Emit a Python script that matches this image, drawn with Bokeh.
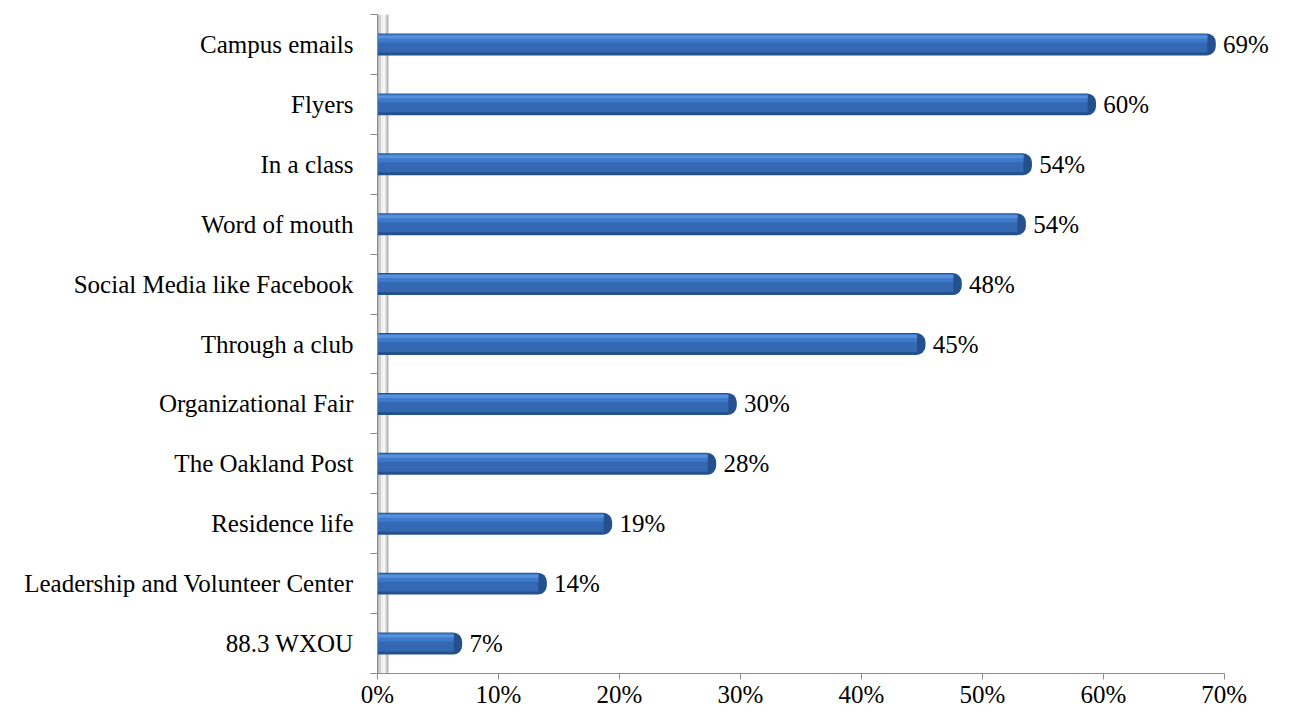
from bokeh.plotting import figure
from bokeh.models import FixedTicker, PrintfTickFormatter, ColumnDataSource, Range1d
from bokeh.core.properties import value
from bokeh.embed import file_html
from bokeh.resources import INLINE

categories = ["Campus emails", "Flyers", "In a class", "Word of mouth",
              "Social Media like Facebook", "Through a club", "Organizational Fair",
              "The Oakland Post", "Residence life", "Leadership and Volunteer Center",
              "88.3 WXOU"]
values = [69.3, 59.4, 54.1, 53.6, 48.3, 45.3, 29.7, 28.0, 19.4, 14.0, 7.0]
value_labels = ["69%", "60%", "54%", "54%", "48%", "45%", "30%", "28%", "19%", "14%", "7%"]
x_ticks = [0, 10, 20, 30, 40, 50, 60, 70]

FONT = "Liberation Serif"
n = len(categories)
ys = [n - i - 0.5 for i in range(n)]
boundaries = list(range(0, n + 1))

p = figure(width=1277, height=710, output_backend="svg", toolbar_location=None,
           x_range=Range1d(0, 74.4), y_range=Range1d(0, n),
           min_border_left=377, min_border_right=0, min_border_top=14,
           min_border_bottom=10)
p.outline_line_color = None
p.xgrid.visible = False
p.ygrid.visible = False
p.background_fill_color = "white"
p.border_fill_color = "white"

u = 1.0 / 60.0  # approx one pixel in category units
bh = 22 * u

# back wall of the 3D chart
wall = [(0.0, 0.1, "#9a9a9a"), (0.1, 0.3, "#d0d0d0"), (0.3, 0.5, "#eeeeee"),
        (0.5, 0.65, "#f8f8f8"), (0.65, 0.8, "#cfcfcf"), (0.8, 0.9, "#a4a4a4")]
for l, r, c in wall:
    p.quad(left=l, right=r, bottom=0.0, top=n + 0.0, fill_color=c, line_color=None)

src = ColumnDataSource(dict(
    y=ys, v=values, lab=value_labels,
    y2=[y + 1 * u for y in ys],
    y3=[y + 6 * u for y in ys],
    y4=[y + 7.5 * u for y in ys],
    vin=[v - 0.7 for v in values],
    lx=[v + 0.6 for v in values],
))

p.hbar(y="y", left=0, right="v", height=bh, source=src,
       fill_color="#24508c", line_color=None, border_radius=(0, 9, 9, 0))
p.hbar(y="y2", left=0, right="vin", height=18 * u, source=src,
       fill_color="#3468b3", line_color=None)
p.hbar(y="y3", left=0, right="vin", height=8 * u, source=src,
       fill_color="#3d7acb", line_color=None)
p.hbar(y="y4", left=0, right="vin", height=3 * u, source=src,
       fill_color="#5890da", line_color=None)

p.text(x="lx", y="y", text="lab", source=src, text_font=value(FONT),
       text_font_size="25px", text_baseline="middle", text_align="left",
       text_color="black")

# x axis
xa = p.xaxis[0]
xa.ticker = FixedTicker(ticks=x_ticks)
xa.formatter = PrintfTickFormatter(format="%d%%")
xa.bounds = (0, 70)
xa.major_label_text_font = FONT
xa.major_label_text_font_size = "25px"
xa.major_label_text_color = "black"
xa.major_label_text_line_height = 0.8
xa.major_tick_in = 0
xa.major_tick_out = 6
xa.minor_tick_line_color = None
xa.axis_line_color = "#8c8c8c"
xa.major_tick_line_color = "#8c8c8c"
xa.major_label_standoff = 1

# y axis
ya = p.yaxis[0]
ya.ticker = FixedTicker(ticks=ys, minor_ticks=boundaries)
ya.major_label_overrides = {y: c for y, c in zip(ys, categories)}
ya.major_label_text_font = FONT
ya.major_label_text_font_size = "25px"
ya.major_label_text_color = "black"
ya.major_tick_in = 0
ya.major_tick_out = 0
ya.minor_tick_in = 0
ya.minor_tick_out = 7
ya.minor_tick_line_color = "#8c8c8c"
ya.axis_line_color = "#8c8c8c"
ya.major_label_standoff = 17

open("out.html", "w").write(file_html(p, INLINE))
